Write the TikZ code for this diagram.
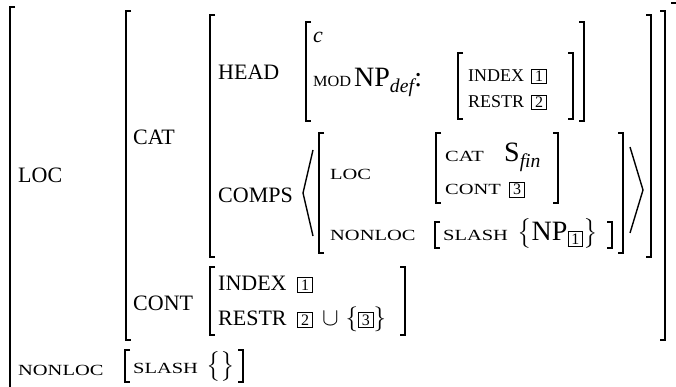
\documentclass[tikz,border=0pt]{standalone}
\usepackage{amsmath}
\usepackage{graphicx}
\usepackage{fontspec}
\setmainfont{Liberation Serif}
\usepackage{tikz}

% boxed tag and small caps
\newcommand{\tg}[1]{{\setlength{\fboxsep}{1.5pt}\setlength{\fboxrule}{0.8pt}\fbox{\fontsize{16}{16}\selectfont\makebox[11pt]{#1}}}}
\newcommand{\smc}[1]{\scalebox{1.32}[1]{\fontsize{15.5}{18}\selectfont #1}}

\tikzset{
  brk/.style={line width=1.8pt},
  ang/.style={line width=1.4pt},
  bigf/.style={inner sep=0pt, anchor=base west, font=\fontsize{22}{26}\selectfont},
  scf/.style={inner sep=0pt, anchor=base west},
  midf/.style={inner sep=0pt, anchor=base west, font=\fontsize{18}{21}\selectfont},
  mathf/.style={inner sep=0pt, anchor=base west, font=\fontsize{28}{30}\selectfont},
}

\begin{document}
\begin{tikzpicture}[x=1pt, y=-1pt]
      \useasboundingbox (0,0) rectangle (676,387);

      % outer matrix
      \draw[brk] (15,7) -- (10,7) -- (10,395);
      \draw[brk] (671,3) -- (678,3) -- (678,395);

      % LOC value
      \draw[brk] (131,11) -- (126,11) -- (126,340) -- (131,340);
      \draw[brk] (660,11) -- (665,11) -- (665,340) -- (660,340);

      % CAT value
      \draw[brk] (215,15) -- (210,15) -- (210,257) -- (215,257);
      \draw[brk] (646,15) -- (651,15) -- (651,257) -- (646,257);

      % HEAD value
      \draw[brk] (311,22) -- (306,22) -- (306,121) -- (311,121);
      \draw[brk] (579,22) -- (584,22) -- (584,121) -- (579,121);
      \draw[brk] (463,53) -- (458,53) -- (458,119) -- (463,119);
      \draw[brk] (568,53) -- (573,53) -- (573,119) -- (568,119);

      % COMPS list
      \draw[ang] (313,150) -- (303,193) -- (313,236);
      \draw[ang] (630,147) -- (643,190) -- (630,233);
      \draw[brk] (324,133) -- (319,133) -- (319,253) -- (324,253);
      \draw[brk] (618,133) -- (623,133) -- (623,253) -- (618,253);
      \draw[brk] (441,133) -- (436,133) -- (436,203) -- (441,203);
      \draw[brk] (553,133) -- (558,133) -- (558,203) -- (553,203);
      \draw[brk] (440,222) -- (435,222) -- (435,248) -- (440,248);
      \draw[brk] (607,222) -- (612,222) -- (612,248) -- (607,248);

      % CONT value
      \draw[brk] (215,267) -- (210,267) -- (210,335) -- (215,335);
      \draw[brk] (400,267) -- (405,267) -- (405,335) -- (400,335);

      % NONLOC value
      \draw[brk] (130,350) -- (125,350) -- (125,382) -- (130,382);
      \draw[brk] (238,350) -- (243,350) -- (243,382) -- (238,382);

      \node[bigf] (loc) at (18,183) {LOC};
      \node[scf] (nonloc) at (18,375) {\smc{NONLOC}};
      \node[bigf] (cat) at (133,145) {CAT};
      \node[bigf] (cont) at (133,310) {CONT};
      \node[bigf] (head) at (218,80) {HEAD};
      \node[bigf] (comps) at (218,202) {COMPS};

      \node[bigf] (c) at (313,43) {\textit{c}};
      \node[scf] (mod) at (313,87) {\scalebox{1.05}[1]{\fontsize{15.5}{18}\selectfont MOD}};
      \node[mathf] (np) at (354,87) {$\mathrm{NP}_{\textit{def}}$:};
      \node[midf] (mindex) at (468,82) {INDEX};
      \node[midf] (mrestr) at (468,108) {RESTR};
      \node[inner sep=0pt, anchor=base west] (mone) at (531,82) {\tg{1}};
      \node[inner sep=0pt, anchor=base west] (mtwo) at (531,108) {\tg{2}};

      \node[scf] (iloc) at (330,180) {\smc{LOC}};
      \node[scf] (icat) at (445,162) {\smc{CAT}};
      \node[mathf] (sfin) at (504,162) {$\mathrm{S}_{\textit{fin}}$};
      \node[scf] (icont) at (445,195) {\smc{CONT}};
      \node[inner sep=0pt, anchor=base west] (ithree) at (509,195) {\tg{3}};
      \node[scf] (inonloc) at (330,240) {\smc{NONLOC}};
      \node[scf] (islash) at (443,240) {\smc{SLASH}};
      \node[mathf] (islashv) at (517,240) {$\big\{\mathrm{NP}_{\text{\tg{1}}}\big\}$};

      \node[bigf] (cindex) at (218,290) {INDEX};
      \node[bigf] (crestr) at (218,325) {RESTR};
      \node[inner sep=0pt, anchor=base west] (cone) at (297,290) {\tg{1}};
      \node[inner sep=0pt, anchor=base west] (ctwo) at (297,325) {\tg{2}};
      \node[mathf] (cunion) at (322,325) {$\cup\;\{\text{\tg{3}}\}$};

      \node[scf] (slash) at (133,373) {\smc{SLASH}};
      \node[mathf] (slashv) at (206,373) {$\big\{\big\}$};
\end{tikzpicture}
\end{document}
